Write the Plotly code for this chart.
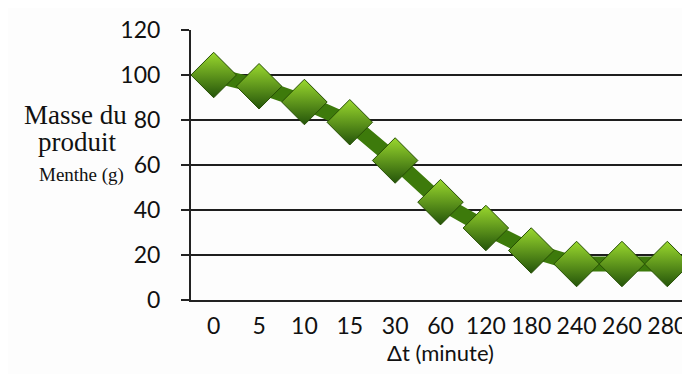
import plotly.graph_objects as go

categories = ["0", "5", "10", "15", "30", "60", "120", "180", "240", "260", "280"]
masse = [100, 95, 88, 79, 62, 43.5, 32, 22, 16, 16, 16]
y_ticks = [0, 20, 40, 60, 80, 100, 120]

fig = go.Figure()
fig.add_trace(go.Scatter(
    x=categories, y=masse, mode="lines+markers",
    line=dict(color="#3d7a0b", width=15),
    marker=dict(symbol="diamond", size=35, color="#9ad82e",
                gradient=dict(type="vertical", color="#24540a"),
                line=dict(color="#264f04", width=1)),
    showlegend=False, cliponaxis=False,
))

fig.update_layout(
    width=682, height=366,
    margin=dict(l=183, r=0, t=22, b=74, autoexpand=False),
    paper_bgcolor="#fdfdfd", plot_bgcolor="#fdfdfd",
    font=dict(family="Lato, Open Sans, sans-serif", color="#111111"),
    xaxis=dict(
        type="category", range=[-0.5, 10.5], automargin=False,
        showgrid=False, showline=True, linecolor="#222222", linewidth=2,
        ticks="", tickfont=dict(size=23, family="Lato, Open Sans, sans-serif"),
        ticklabelstandoff=4,
        title=dict(text="Δt (minute)", font=dict(size=22, family="Lato, Open Sans, sans-serif"), standoff=6),
    ),
    yaxis=dict(
        range=[0, 120], tickvals=y_ticks, automargin=False,
        showgrid=True, gridcolor="#1e1e1e", gridwidth=2,
        showline=True, linecolor="#222222", linewidth=2,
        ticks="outside", ticklen=8, tickwidth=2, tickcolor="#222222",
        tickfont=dict(size=23, family="Lato, Open Sans, sans-serif"),
        ticklabelstandoff=16, zeroline=False,
    ),
)
fig.add_annotation(text="Masse du", xref="paper", yref="paper",
                   x=-0.232, y=0.685, xanchor="center", yanchor="middle", showarrow=False,
                   font=dict(family="Liberation Serif, serif", size=27, color="#111111"))
fig.add_annotation(text="produit", xref="paper", yref="paper",
                   x=-0.229, y=0.585, xanchor="center", yanchor="middle", showarrow=False,
                   font=dict(family="Liberation Serif, serif", size=27, color="#111111"))
fig.add_annotation(text="Menthe (g)", xref="paper", yref="paper",
                   x=-0.219, y=0.462, xanchor="center", yanchor="middle", showarrow=False,
                   font=dict(family="Liberation Serif, serif", size=19, color="#111111"))

fig.write_html("out.html")
